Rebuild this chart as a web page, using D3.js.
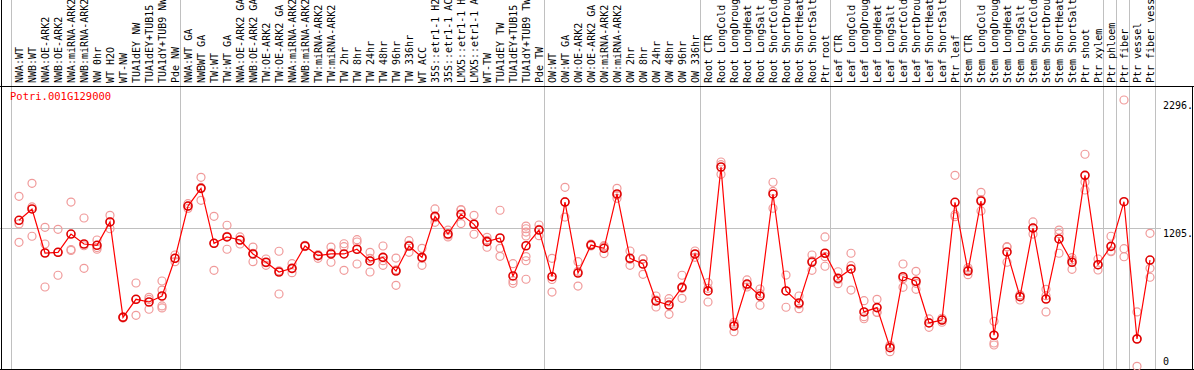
<!DOCTYPE html>
<html>
<head>
<meta charset="utf-8">
<script src="https://cdn.jsdelivr.net/npm/d3@7"></script>
<style>
  body { margin: 0; background: #fff; }
  svg { display: block; font-family: 'DejaVu Sans Mono', monospace; }
</style>
</head>
<body>
<svg width="1194" height="370"></svg>
<script>
const geneId = 'Potri.001G129000';

const categories = [
  'NWA:WT', 'NWB:WT', 'NWA:OE-ARK2', 'NWB:OE-ARK2', 'NWA:miRNA-ARK2', 'NWB:miRNA-ARK2', 'NW 0hr', 'WT H2O', 'WT-NW',
  'TUA1dEY NW', 'TUA1dEY+TUB15 NW', 'TUA1dY+TUB9 NW', 'Pde NW',
  'NWA:WT GA', 'NWBWT GA', 'TW:WT', 'TW:WT GA', 'NWA:OE-ARK2 GA', 'NWB:OE-ARK2 GA', 'TW:OE-ARK2', 'TW:OE-ARK2 GA',
  'NWA:miRNA-ARK2', 'NWB:miRNA-ARK2', 'TW:miRNA-ARK2', 'TW:miRNA-ARK2', 'TW 2hr', 'TW 8hr', 'TW 24hr', 'TW 48hr',
  'TW 96hr', 'TW 336hr', 'WT ACC', '35S::etr1-1 H2O', '35S::etr1-1 ACC', 'LMX5::etr1-1 H2O', 'LMX5::etr1-1 ACC',
  'WT-TW', 'TUA1dEY TW', 'TUA1dEY+TUB15 TW', 'TUA1dY+TUB9 TW', 'Pde TW',
  'OW:WT', 'OW:WT GA', 'OW:OE-ARK2', 'OW:OE-ARK2 GA', 'OW:miRNA-ARK2', 'OW:miRNA-ARK2', 'OW 2hr', 'OW 8hr',
  'OW 24hr', 'OW 48hr', 'OW 96hr', 'OW 336hr',
  'Root CTR', 'Root LongCold', 'Root LongDrought', 'Root LongHeat', 'Root LongSalt', 'Root ShortCold',
  'Root ShortDrought', 'Root ShortHeat', 'Root ShortSalt', 'Ptr root',
  'Leaf CTR', 'Leaf LongCold', 'Leaf LongDrought', 'Leaf LongHeat', 'Leaf LongSalt', 'Leaf ShortCold',
  'Leaf ShortDrought', 'Leaf ShortHeat', 'Leaf ShortSalt', 'Ptr leaf',
  'Stem CTR', 'Stem LongCold', 'Stem LongDrought', 'Stem LongHeat', 'Stem LongSalt', 'Stem ShortCold',
  'Stem ShortDrought', 'Stem ShortHeat', 'Stem ShortSalt', 'Ptr shoot', 'Ptr xylem',
  'Ptr phloem', 'Ptr fiber', 'Ptr vessel', 'Ptr fiber vessel'
];

// index of the first sample of each group
const groupStarts = [0, 13, 41, 53, 63, 73, 84, 85, 86];

const means = [
  1269, 1366, 990, 996, 1152, 1067, 1056, 1255, 441, 595, 572, 623, 945,
  1391, 1542, 1073, 1127, 1101, 982, 911, 828, 859, 1050, 967, 982, 982, 1022, 922, 953,
  836, 1050, 953, 1303, 1152, 1320, 1235, 1087, 1118, 794, 1052, 1186,
  788, 1425, 819, 1058, 1030, 1494, 945, 896, 580, 546, 697, 982,
  666, 1724, 367, 725, 623, 1494, 666, 563, 913, 988,
  774, 854, 487, 524, 182, 788, 749, 393, 418, 1423,
  836, 1434, 288, 999, 617, 1203, 597, 1110, 911, 1653, 890,
  1047, 1428, 256, 930
];

const replicates = [
  [1474, 1238, 1081], [1585, 1133, 1383], [1209, 1067, 700], [1192, 800, 996],
  [1425, 1020, 1012], [1289, 859, 1052], [1101, 1022, 1036], [1312, 1197, 1255],
  [445, 436, 441], [734, 458, 593], [612, 510, 594], [751, 674, 538, 521], [973, 916, 945],
  [1411, 1391, 1371], [1636, 1440, 1550], [1303, 842, 1073], [1227, 1022, 1132],
  [1127, 1067, 1101], [1041, 916, 988], [939, 885, 907], [1005, 640, 838], [899, 822, 857],
  [1050, 1045, 1056], [975, 945, 974], [1041, 911, 991], [1069, 1044, 842], [1104, 1084, 896],
  [996, 945, 828], [1050, 885, 925], [947, 714, 847], [1095, 996, 1058], [1030, 885, 945],
  [1366, 1252, 1292], [1186, 1127, 1144], [1357, 1241, 1361], [1312, 1150, 1241],
  [1124, 1039, 1098], [1355, 1030, 962], [899, 731, 754],
  [1220, 1197, 1169, 1135, 960, 924, 766], [1229, 1138, 1192],
  [945, 657, 764], [1551, 1297, 1428], [916, 708, 834], [1058, 1050, 1066], [1053, 985, 1044],
  [1542, 1457, 1482], [1007, 885, 936], [939, 808, 941], [623, 529, 589], [600, 467, 572],
  [800, 603, 689], [1007, 953, 979],
  [737, 572, 689], [1767, 1662, 1744], [399, 318, 384], [760, 700, 717], [683, 544, 643],
  [1594, 1372, 1516], [802, 527, 668], [623, 515, 552], [973, 842, 924], [1127, 877, 959],
  [830, 728, 763], [988, 674, 882], [583, 429, 447], [595, 484, 483], [202, 148, 196],
  [896, 697, 771], [834, 680, 731], [427, 356, 395], [433, 399, 418], [1653, 1317, 1300],
  [865, 805, 850], [1508, 1349, 1445], [407, 222, 205], [1044, 911, 1041], [632, 589, 632],
  [1255, 1152, 1203], [680, 487, 626], [1186, 988, 1155], [950, 851, 930], [1833, 1596, 1528],
  [939, 845, 888], [1133, 1001, 1007], [2296, 1027, 958], [487, 23, 259], [1158, 859, 783]
];

const yTicks = [0, 1205, 2296];
const yTickLabels = ['0', '1205.', '2296.'];

const [width, height] = [1194, 370];
const plotTop = 86, plotBottom = 369, plotRight = 1155;

const svg = d3.select('svg');

const x = d3.scaleLinear()
    .domain([0, categories.length - 1])
    .range([19, 1150]);

const y = d3.scaleLinear()
    .domain([0, d3.max(yTicks)])
    .range([plotBottom, 100]);

// group separators (full height)
const sepX = groupStarts.map(i => x(i) - 8).concat([plotRight]);
svg.append('g')
    .attr('stroke', '#c0c0c0')
  .selectAll('line')
  .data(sepX)
  .join('line')
    .attr('x1', d => d + 0.5).attr('x2', d => d + 0.5)
    .attr('y1', 0).attr('y2', plotBottom);

// horizontal grid at middle tick
svg.append('line')
    .attr('stroke', '#c0c0c0')
    .attr('x1', 0).attr('x2', 1161)
    .attr('y1', Math.round(y(yTicks[1])) + 0.5)
    .attr('y2', Math.round(y(yTicks[1])) + 0.5);

// frame
svg.append('g')
    .attr('stroke', '#000')
    .call(g => g.append('line').attr('x1', 1.5).attr('x2', 1.5).attr('y1', 0).attr('y2', plotBottom + 1))
    .call(g => g.append('line').attr('x1', width - 1.5).attr('x2', width - 1.5).attr('y1', plotTop).attr('y2', plotBottom + 1))
    .call(g => g.append('line').attr('x1', 0).attr('x2', width).attr('y1', plotTop + 0.5).attr('y2', plotTop + 0.5))
    .call(g => g.append('line').attr('x1', 0).attr('x2', width).attr('y1', plotBottom + 0.5).attr('y2', plotBottom + 0.5));

// sample labels, rotated
svg.append('g')
    .attr('font-size', 10)
    .attr('fill', '#000')
  .selectAll('text')
  .data(categories)
  .join('text')
    .attr('transform', (d, i) => `translate(${x(i) + 3.5},83) rotate(-90)`)
    .text(d => d);

// right axis labels
svg.append('g')
    .attr('font-size', 10)
    .attr('fill', '#000')
  .selectAll('text')
  .data(yTicks)
  .join('text')
    .attr('x', 1163)
    .attr('y', d => d === 0 ? y(d) - 4 : y(d) + 9)
    .text((d, i) => yTickLabels[i]);

// title
svg.append('text')
    .attr('x', 10).attr('y', 100)
    .attr('font-size', 10.5)
    .attr('fill', '#ff0000')
    .text(geneId);

// replicate points
const repPoints = replicates.flatMap((vals, i) => vals.map(v => ({i, v})));
svg.append('g')
    .attr('fill', 'none')
    .attr('stroke', '#f09a9a')
    .attr('stroke-width', 1.2)
  .selectAll('circle')
  .data(repPoints)
  .join('circle')
    .attr('cx', d => x(d.i))
    .attr('cy', d => y(d.v))
    .attr('r', 4);

// mean line
svg.append('path')
    .datum(means)
    .attr('fill', 'none')
    .attr('stroke', '#ff0000')
    .attr('stroke-width', 1.2)
    .attr('d', d3.line().x((d, i) => x(i)).y(d => y(d)));

// mean markers
svg.append('g')
    .attr('fill', 'none')
    .attr('stroke', '#e00000')
    .attr('stroke-width', 1.6)
  .selectAll('circle')
  .data(means)
  .join('circle')
    .attr('cx', (d, i) => x(i))
    .attr('cy', d => y(d))
    .attr('r', 4);
</script>
</body>
</html>
